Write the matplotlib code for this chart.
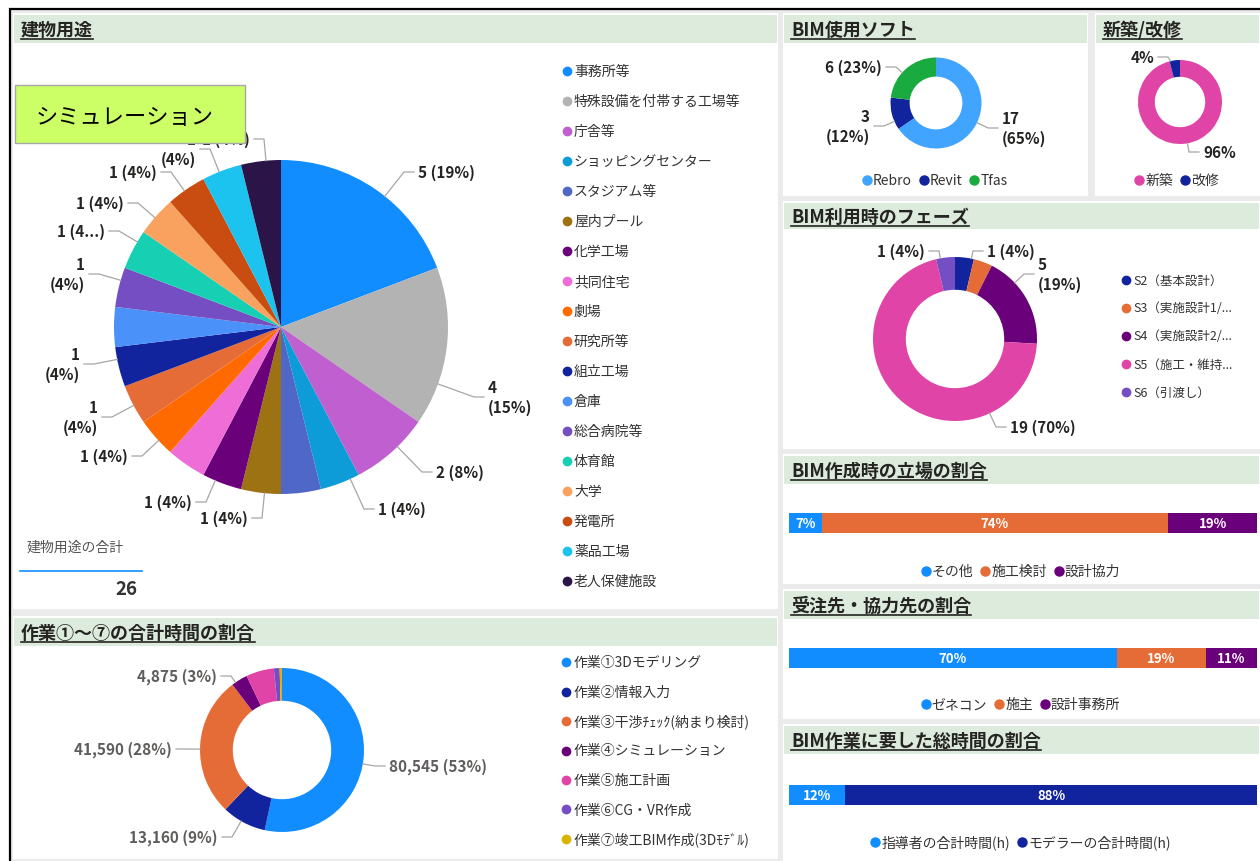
import math
import matplotlib
matplotlib.use("Agg")
import matplotlib.pyplot as plt
from matplotlib.patches import Rectangle

plt.rcParams['font.family'] = ['Noto Sans CJK JP', 'DejaVu Sans']

W, H = 1260, 862

# === data ===
use_names = ['事務所等', '特殊設備を付帯する工場等', '庁舎等', 'ショッピングセンター', 'スタジアム等',
             '屋内プール', '化学工場', '共同住宅', '劇場', '研究所等', '組立工場', '倉庫',
             '総合病院等', '体育館', '大学', '発電所', '薬品工場', '老人保健施設']
use_counts = [5, 4, 2, 1, 1, 1, 1, 1, 1, 1, 1, 1, 1, 1, 1, 1, 1, 1]
use_colors = ['#118DFF', '#B3B3B3', '#C05FCF', '#0E9CD8', '#4F67C6', '#9C7213', '#6B007B',
              '#EE6DD6', '#FF6A00', '#E66C37', '#12239E', '#4A91FA', '#744EC2', '#17CFB2',
              '#F9A25F', '#C94C10', '#1CC3EF', '#2B1448']

soft_names = ['Rebro', 'Revit', 'Tfas']
soft_counts = [17, 3, 6]
soft_colors = ['#41A4FF', '#12239E', '#1AAB40']

new_names = ['新築', '改修']
new_pct = [96, 4]
new_colors = ['#E044A7', '#12239E']

phase_names = ['S2（基本設計）', 'S3（実施設計1/...', 'S4（実施設計2/...', 'S5（施工・維持...', 'S6（引渡し）']
phase_counts = [1, 1, 5, 19, 1]
phase_colors = ['#12239E', '#E66C37', '#6B007B', '#E044A7', '#744EC2']

work_names = ['作業①3Dモデリング', '作業②情報入力', '作業③干渉ﾁｪｯｸ(納まり検討)', '作業④シミュレーション',
              '作業⑤施工計画', '作業⑥CG・VR作成', '作業⑦竣工BIM作成(3Dﾓﾃﾞﾙ)']
work_hours = [80545, 13160, 41590, 4875, 8300, 1700, 700]
work_colors = ['#118DFF', '#12239E', '#E66C37', '#6B007B', '#E044A7', '#744EC2', '#D9B300']

role_names = ['その他', '施工検討', '設計協力']
role_pct = [7, 74, 19]
client_names = ['ゼネコン', '施主', '設計事務所']
client_pct = [70, 19, 11]
bar3_colors = ['#118DFF', '#E66C37', '#6B007B']
time_names = ['指導者の合計時間(h)', 'モデラーの合計時間(h)']
time_pct = [12, 88]
time_colors = ['#118DFF', '#12239E']

fig = plt.figure(figsize=(W / 100, H / 100), dpi=100)
fig.patch.set_facecolor('white')
base = fig.add_axes([0, 0, 1, 1])
base.set_xlim(0, W)
base.set_ylim(H, 0)
base.axis('off')
rend = fig.canvas.get_renderer()

base.add_patch(Rectangle((10, 10), W, H, facecolor='#ebebeb', edgecolor='black', lw=1.6, zorder=0))


def panel(x0, y0, x1, y1, title, bar_h=28):
    base.add_patch(Rectangle((x0, y0), x1 - x0, y1 - y0, facecolor='white', edgecolor='none', zorder=0.5))
    base.add_patch(Rectangle((x0 + 1, y0 + 2), x1 - x0 - 2, bar_h, facecolor='#dcebdc', edgecolor='none', zorder=0.6))
    ty = y0 + 2 + bar_h / 2
    t = base.text(x0 + 8, ty, title, fontsize=13, fontweight='bold', color='#252423', va='center', zorder=2)
    bb = t.get_window_extent(rend)
    base.plot([bb.x0, bb.x1], [ty + 10, ty + 10], color='#252423', lw=1.2, zorder=2)


panel(13, 14, 778, 610, '建物用途')
panel(13, 617, 778, 860, '作業①～⑦の合計時間の割合')
panel(783, 14, 1088, 197, 'BIM使用ソフト')
panel(1095, 14, 1260, 197, '新築/改修')
panel(783, 202, 1260, 450, 'BIM利用時のフェーズ', bar_h=26)
panel(783, 455, 1260, 585, 'BIM作成時の立場の割合')
panel(783, 590, 1260, 720, '受注先・協力先の割合')
panel(783, 725, 1260, 862, 'BIM作業に要した総時間の割合')


def pie_axes(cx, cy, R, vals, colors, width=None):
    ax = fig.add_axes([0, 0, 1, 1])
    wp = dict(linewidth=0)
    if width:
        wp['width'] = width
    ax.pie(vals, colors=colors, startangle=90, counterclock=False, radius=1, wedgeprops=wp)
    ax.set_xlim(-cx / R, (W - cx) / R)
    ax.set_ylim((cy - H) / R, cy / R)
    ax.set_aspect('auto')
    ax.axis('off')
    return ax


def spans(vals):
    tot = sum(vals)
    out, c = [], 0
    for v in vals:
        out.append((c / tot * 360, (c + v) / tot * 360))
        c += v
    return out


def slice_label(ax, cx, cy, R, span, text, tx, ty, side, color='#252423', fs=11):
    hx = tx - side * 4
    ex = hx - side * 10
    ang = math.degrees(math.atan2(ex - cx, cy - ty)) % 360
    ang = min(max(ang, span[0] + 1.5), span[1] - 1.5)
    px = cx + R * math.sin(math.radians(ang))
    py = cy - R * math.cos(math.radians(ang))
    xs, ys = [px, ex, hx], [py, ty, ty]
    ax.plot([(x - cx) / R for x in xs], [(cy - y) / R for y in ys], color='#a6a6a6', lw=0.9, clip_on=False)
    ha = 'left' if side > 0 else 'right'
    ax.text((tx - cx) / R, (cy - ty) / R, text, ha=ha, va='center', multialignment=ha,
            fontsize=fs, fontweight='bold', color=color, linespacing=1.35, clip_on=False)


def pct_text(v, tot, style):
    p = round(100 * v / tot)
    vs = f"{v:,}"
    if style == 'two':
        return f"{vs}\n({p}%)"
    if style == 'cut':
        return f"{vs} ({str(p)[:1]}...)"
    if style == 'pct':
        return f"{p}%"
    return f"{vs} ({p}%)"


def vlegend(names, colors, x, y0, dy, fs):
    for i, (n, c) in enumerate(zip(names, colors)):
        base.plot(x, y0 + i * dy, 'o', ms=6, color=c, zorder=2)
        base.text(x + 7, y0 + i * dy, n, va='center', fontsize=fs, color='#333333', zorder=2)


def hlegend(names, colors, cx, y, fs=10):
    texts, total = [], 0
    for n in names:
        t = base.text(0, y, n, va='center', fontsize=fs, color='#333333', zorder=2)
        w = t.get_window_extent(rend).width
        texts.append((t, w))
        total += 10 + w
    total += 8 * (len(names) - 1)
    x = cx - total / 2
    for (t, w), c in zip(texts, colors):
        base.plot(x + 4, y, 'o', ms=6.5, color=c, zorder=2)
        t.set_x(x + 10)
        x += 10 + w + 8


# === 建物用途 pie ===
cx, cy, R = 281, 328, 167
ax = pie_axes(cx, cy, R, use_counts, use_colors)
sp = spans(use_counts)
tot = sum(use_counts)
use_lab = [(0, 418, 173, 1, 'one'), (1, 488, 398, 1, 'two'), (2, 436, 473, 1, 'one'),
           (3, 378, 510, 1, 'one'), (5, 248, 519, -1, 'one'), (6, 192, 503, -1, 'one'),
           (8, 128, 457, -1, 'one'), (9, 98, 418, -1, 'two'), (10, 80, 365, -1, 'two'),
           (12, 85, 275, -1, 'two'), (13, 105, 232, -1, 'cut'), (14, 124, 204, -1, 'one'),
           (15, 157, 173, -1, 'one'), (16, 196, 150, -1, 'two'), (17, 250, 140, -1, 'one')]
for i, tx, ty, side, st in use_lab:
    slice_label(ax, cx, cy, R, sp[i], pct_text(use_counts[i], tot, st), tx, ty, side)
vlegend(use_names, use_colors, 567, 72, 30, 10)

base.text(27, 548, '建物用途の合計', fontsize=10, color='#555555', va='center', zorder=2)
base.plot([20, 142], [572, 572], color='#118DFF', lw=1.2, zorder=2)
base.text(137, 590, f"{sum(use_counts)}", fontsize=13.5, fontweight='bold', color='#333333',
          ha='right', va='center', zorder=2)

# overlay note
fig.add_artist(Rectangle((15 / W, 1 - 144 / H), 230 / W, 58 / H, transform=fig.transFigure,
                         facecolor='#ccff66', edgecolor='#a8a8a8', lw=1, zorder=10))
fig.text(36 / W, 1 - 117 / H, 'シミュレーション', fontsize=16, color='black', va='center', zorder=11)

# === 作業 donut ===
cx, cy, R = 282, 751, 82
ax = pie_axes(cx, cy, R, work_hours, work_colors, width=0.4)
sp = spans(work_hours)
tot = sum(work_hours)
work_lab = [(0, 389, 767, 1), (2, 172, 750, -1), (1, 218, 838, -1), (3, 217, 677, -1)]
for i, tx, ty, side in work_lab:
    slice_label(ax, cx, cy, R, sp[i], pct_text(work_hours[i], tot, 'one'), tx, ty, side, color='#605E5C')
vlegend(work_names, work_colors, 566, 663, 29.5, 10)

# === BIM使用ソフト ===
cx, cy, R = 936, 104, 45.5
ax = pie_axes(cx, cy, R, soft_counts, soft_colors, width=0.42)
sp = spans(soft_counts)
tot = sum(soft_counts)
soft_lab = [(0, 1002, 129, 1, 'two'), (1, 870, 127, -1, 'two'), (2, 882, 68, -1, 'one')]
for i, tx, ty, side, st in soft_lab:
    slice_label(ax, cx, cy, R, sp[i], pct_text(soft_counts[i], tot, st), tx, ty, side)
hlegend(soft_names, soft_colors, 935, 181)

# === 新築/改修 ===
cx, cy, R = 1180, 103, 42
ax = pie_axes(cx, cy, R, new_pct, new_colors, width=0.4)
sp = spans(new_pct)
new_lab = [(1, 1154, 58, -1), (0, 1203, 153, 1)]
for i, tx, ty, side in new_lab:
    slice_label(ax, cx, cy, R, sp[i], pct_text(new_pct[i], sum(new_pct), 'pct'), tx, ty, side)
hlegend(new_names, new_colors, 1177, 181)

# === フェーズ ===
cx, cy, R = 955, 340, 82
ax = pie_axes(cx, cy, R, phase_counts, phase_colors, width=0.4)
sp = spans(phase_counts)
tot = sum(phase_counts)
phase_lab = [(4, 925, 252, -1, 'one'), (0, 987, 252, 1, 'one'), (2, 1038, 275, 1, 'two'),
             (3, 1010, 428, 1, 'one')]
for i, tx, ty, side, st in phase_lab:
    slice_label(ax, cx, cy, R, sp[i], pct_text(phase_counts[i], tot, st), tx, ty, side)
vlegend(phase_names, phase_colors, 1126, 281, 28, 9)


# === stacked bars ===
def stacked_bar(x0, x1, y0, y1, vals, colors):
    bx = fig.add_axes([x0 / W, 1 - y1 / H, (x1 - x0) / W, (y1 - y0) / H])
    left = 0
    for v, c in zip(vals, colors):
        bx.barh(0, v, left=left, height=1, color=c)
        bx.text(left + v / 2, 0, f"{v}%", ha='center', va='center', color='white',
                fontsize=9.5, fontweight='bold')
        left += v
    bx.set_xlim(0, sum(vals))
    bx.set_ylim(-0.5, 0.5)
    bx.axis('off')


stacked_bar(789, 1257, 514, 534, role_pct, bar3_colors)
hlegend(role_names, bar3_colors, 1021, 572)
stacked_bar(789, 1257, 649, 669, client_pct, bar3_colors)
hlegend(client_names, bar3_colors, 1021, 705)
stacked_bar(789, 1257, 786, 806, time_pct, time_colors)
hlegend(time_names, time_colors, 1021, 843)

fig.savefig('out.png', dpi=100)
